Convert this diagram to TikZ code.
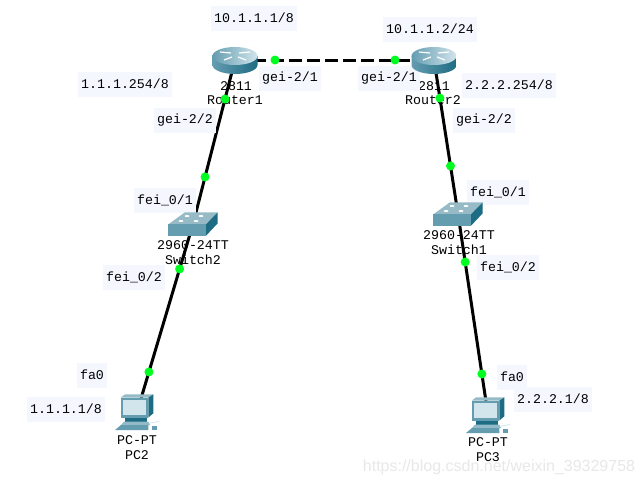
\documentclass[tikz,border=0pt]{standalone}
\usepackage{fontspec}
\setmonofont{Liberation Mono}
\setsansfont{Liberation Sans}
\usepackage{xcolor}
\usepackage{tikz}
\usetikzlibrary{positioning,calc}
\definecolor{labelbg}{RGB}{245,247,255}
\definecolor{portgreen}{RGB}{0,255,33}
\definecolor{icondark}{RGB}{30,108,132}
\definecolor{iconmid}{RGB}{100,156,176}
\definecolor{iconlight}{RGB}{210,229,236}
\definecolor{icontop}{RGB}{150,186,198}

% router icon, centred on the given coordinate
\newcommand{\routericon}[1]{
  \begin{scope}[shift={(#1)}]
    \path[left color=iconmid, middle color=iconlight, right color=icondark]
      (-22.5,-4) -- (-22.5,5) .. controls (-22.5,10) and (-12.5,14) .. (0,14)
      .. controls (12.5,14) and (22.5,10) .. (22.5,5) -- (22.5,-4) -- cycle;
    \path[left color=iconmid, right color=iconlight]
      (0,-4) ellipse[x radius=22.5, y radius=9];
    \draw[white, line width=1.2pt] (-15,-8) -- (-4,-7) (15,-8) -- (4,-7) (-11,0) -- (-3,-3) (11,0) -- (3,-3);
  \end{scope}
}
% switch icon
\newcommand{\switchicon}[1]{
  \begin{scope}[shift={(#1)}]
    \fill[icontop] (-24.7,0.3) -- (-8,-11.7) -- (24.7,-11.7) -- (13,0.3) -- cycle;
    \fill[iconmid] (-24.7,0.3) rectangle (13,11.7);
    \fill[icondark] (13,0.3) -- (24.7,-11.7) -- (24.7,-0.7) -- (13,11.7) -- cycle;
    \foreach \dx/\dy in {-12/-3, -6/-8, 8/-8, 3/-3}
      \fill[white] (\dx,\dy) ellipse[x radius=2.5, y radius=1];
  \end{scope}
}
% pc icon
\newcommand{\pcicon}[1]{
  \begin{scope}[shift={(#1)}]
    \fill[icontop] (-16.3,-14.3) -- (-12,-17.7) -- (16.3,-17.7) -- (11.3,-14.3) -- cycle;
    \fill[icondark] (11.3,-14.3) -- (16.3,-17.7) -- (16.3,1.3) -- (11.3,5.5) -- cycle;
    \fill[iconmid] (-16.3,-14.3) rectangle (11.3,5.5);
    \fill[iconlight] (-13.7,-12) rectangle (8.7,3);
    \fill[icondark] (-12,5.5) -- (9.7,5.5) -- (9.7,9.5) -- (-12,9.5) -- cycle;
    \fill[iconmid!70!white] (-13,9.5) -- (11.3,9.5) -- (13,13) -- (-16,13) -- cycle;
    \fill[iconmid] (-16,13) -- (11.3,13) -- (11.3,18) -- (-22,18) -- cycle;
    \draw[iconlight, line width=0.8pt] (13,11) -- (22,9.5);
    \fill[iconmid] (14.7,14) rectangle (20.3,18);
  \end{scope}
}

\begin{document}
\begin{tikzpicture}[
  x=1pt, y=-1pt,
  font=\ttfamily\fontsize{13.3}{15}\selectfont,
  addr/.style={fill=labelbg, inner xsep=3.5pt, inner ysep=0pt, minimum height=25pt},
  devtext/.style={inner sep=0pt},
  link/.style={line width=3pt, black},
  port/.style={circle, fill=portgreen, inner sep=0pt, minimum size=9pt},
]
\path[use as bounding box, fill=white] (0,0) rectangle (644,485);

% ============ device positions ============
\coordinate (router1) at (235,60);
\coordinate (router2) at (434,60);
\coordinate (switch2) at (193,224);
\coordinate (switch1) at (458,214);
\coordinate (pc2) at (137,412);
\coordinate (pc3) at (488,415);

% ============ device captions ============
\node[devtext] (model1) at (236,86) {2811};
\node[devtext] (name1) at (235,100) {Router1};
\node[devtext] (model2) at (434,86) {2811};
\node[devtext] (name2) at (433,100) {Router2};
\node[devtext] (model3) at (193,245) {2960-24TT};
\node[devtext] (name3) at (193,260) {Switch2};
\node[devtext] (model4) at (459,235) {2960-24TT};
\node[devtext] (name4) at (459,250) {Switch1};
\node[devtext] (model5) at (137,440) {PC-PT};
\node[devtext] (name5) at (137,455) {PC2};
\node[devtext] (model6) at (488,442) {PC-PT};
\node[devtext] (name6) at (488,457) {PC3};

% ===================== LINKS =====================
\draw[link, dash pattern=on 13pt off 5pt] (router1) -- node[port, pos=0.201] (p1) {} node[port, pos=0.804] (p2) {} (router2);
\draw[link] (router1) -- node[port, pos=0.238] (p3) {} node[port, pos=0.713] (p4) {} (switch2);
\draw[link] (switch2) -- node[port, pos=0.239] (p5) {} node[port, pos=0.787] (p6) {} (pc2);
\draw[link] (router2) -- node[port, pos=0.247] (p7) {} node[port, pos=0.688] (p8) {} (switch1);
\draw[link] (switch1) -- node[port, pos=0.239] (p9) {} node[port, pos=0.796] (p10) {} (pc3);

% ============ address and port labels ============
\node[addr] (ip1) at (254,18) {10.1.1.1/8};
\node[addr] (ip2) at (430,29) {10.1.1.2/24};
\node[addr] (ip3) at (125,84) {1.1.1.254/8};
\node[addr] (ip4) at (509,85) {2.2.2.254/8};
\node[addr] (ip5) at (66,409) {1.1.1.1/8};
\node[addr] (ip6) at (553,399) {2.2.2.1/8};
\node[addr] (if1) at (290,78) {gei-2/1};
\node[addr] (if2) at (389,78) {gei-2/1};
\node[addr] (if3) at (185,120) {gei-2/2};
\node[addr] (if4) at (484,120) {gei-2/2};
\node[addr] (if5) at (165,200) {fei\_0/1};
\node[addr] (if6) at (498,192) {fei\_0/1};
\node[addr] (if7) at (134,277) {fei\_0/2};
\node[addr] (if8) at (508,267) {fei\_0/2};
\node[addr] (if9) at (92,375) {fa0};
\node[addr] (if10) at (512,377) {fa0};

% ============ icons ============
\routericon{router1}
\routericon{router2}
\switchicon{switch2}
\switchicon{switch1}
\pcicon{pc2}
\pcicon{pc3}

% watermark
\node[inner sep=0pt, font=\sffamily\fontsize{16}{18}\selectfont, text=black!9] (mark) at (499,467) {https://blog.csdn.net/weixin\_39329758};

\end{tikzpicture}
\end{document}
